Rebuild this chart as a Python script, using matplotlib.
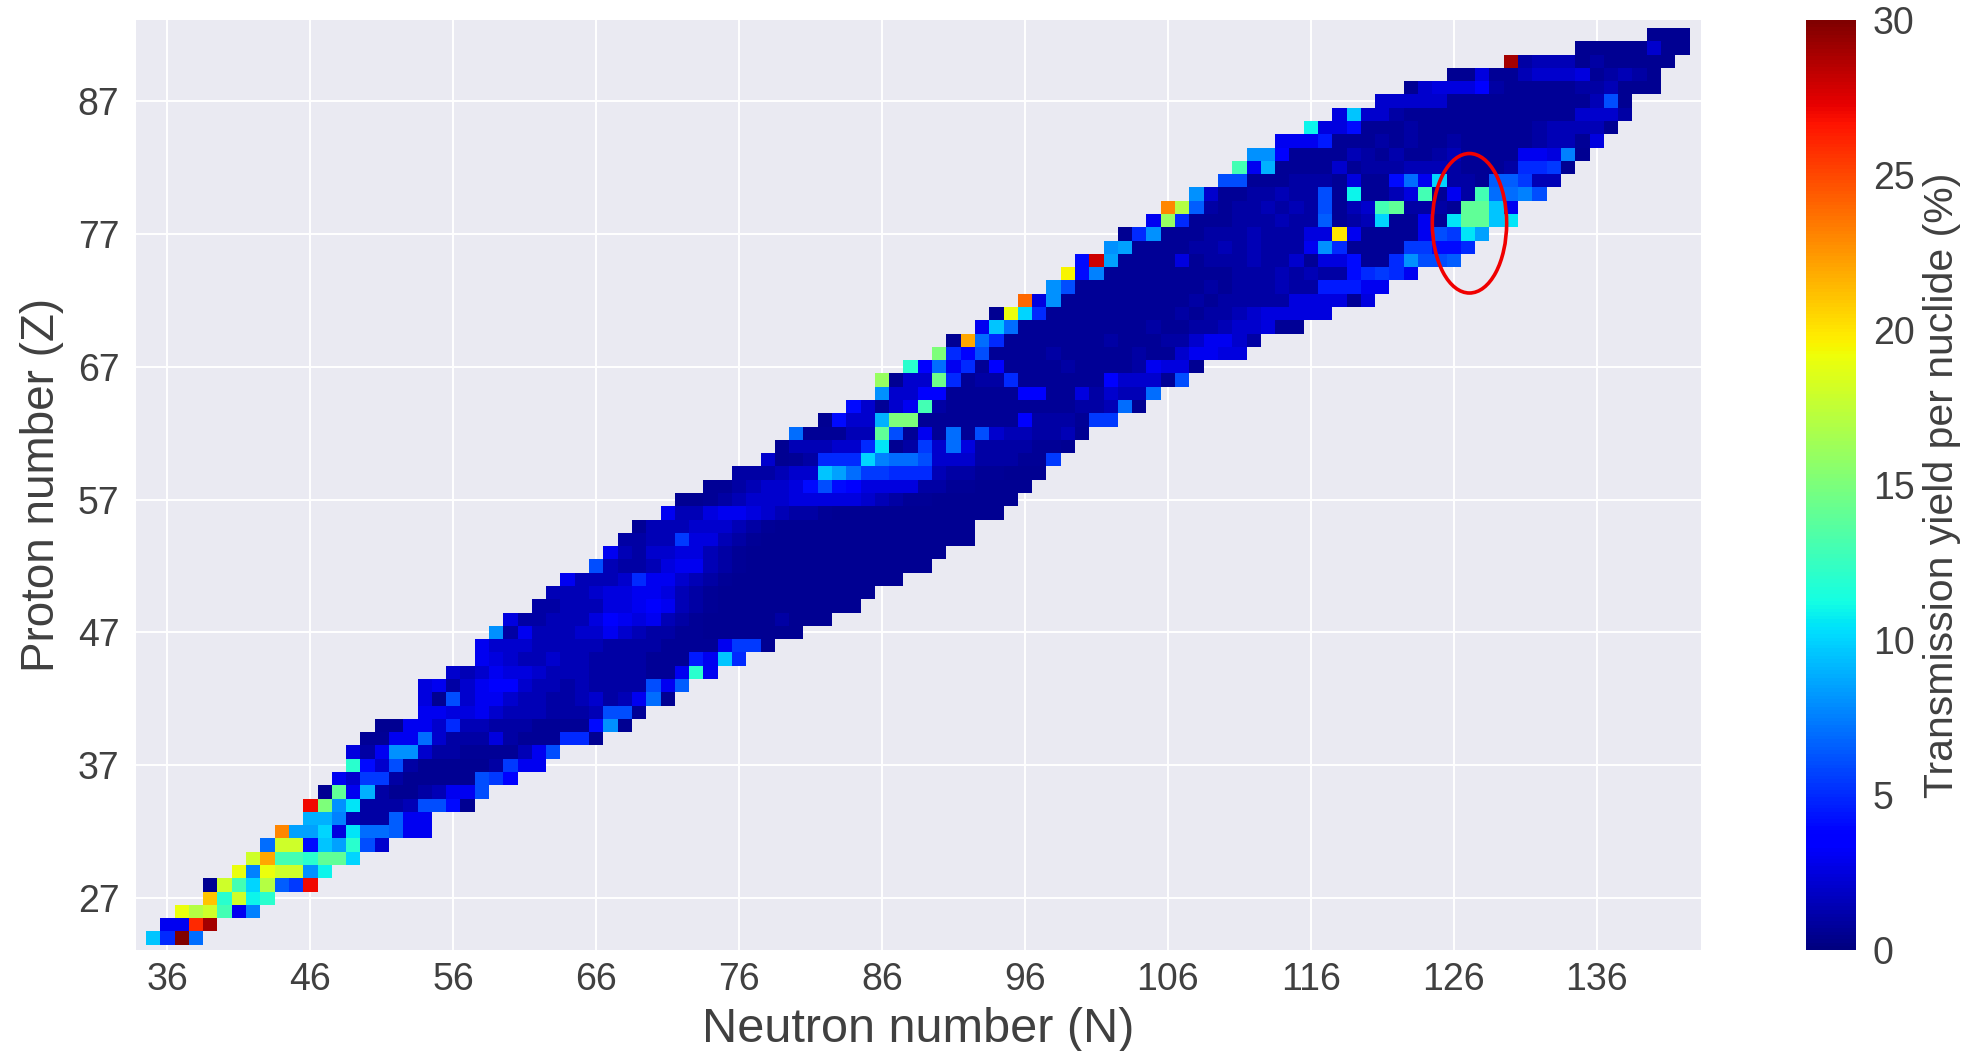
import numpy as np
import matplotlib
matplotlib.use("Agg")
import matplotlib.pyplot as plt
from matplotlib.patches import Ellipse

plt.rcParams["font.family"] = ["Liberation Sans", "DejaVu Sans"]

text_col = "#404040"

x_ticks = [36, 46, 56, 66, 76, 86, 96, 106, 116, 126, 136]
y_ticks = [27, 37, 47, 57, 67, 77, 87]
cbar_ticks = [0, 5, 10, 15, 20, 25, 30]

# proton number of the first row, first neutron number of each row
first_z = 24
first_n = [
    35, 36, 37, 39, 39, 41, 42, 43, 44, 46, 46, 47, 48, 49, 49, 50, 51, 54, 54, 54,
    56, 58, 58, 59, 60, 62, 63, 64, 66, 67, 68, 69, 71, 72, 74, 76, 78, 79, 80, 82,
    84, 86, 86, 88, 90, 91, 93, 94, 96, 98, 99, 100, 102, 103, 105, 106, 108, 110, 111, 112,
    114, 116, 118, 121, 123, 126, 130, 135, 140,
]

# yield (%) per row, Z = 24 upwards
yields = [
    [9.5, 5, 30, 7],
    [3, 3, 26, 29],
    [19, 17, 18, 13, 3, 7.5],
    [21, 12, 18, 11, 12],
    [.5, 18, 13, 10, 17, 6.5, 5.5, 27],
    [19, 7.5, 19, 18, 18, 8, 11],
    [18, 22, 13, 13, 12, 14, 14, 10],
    [7, 18, 18, 4, 9.5, 8.5, 12, 6, 2],
    [23, 8.5, 8.5, 10, 2.5, 10.5, 7, 7, 6.5, 3, 3],
    [9, 9, 7.5, 1.5, 1, 1, 6.5, 3, 3],
    [27, 15, 8, 10.5, 1, 1, 1, 1.5, 6, 6, 4, .5],
    [.5, 14, 3, 9, 1, .5, .5, 1, 1.5, 3, 3, 6],
    [3, 2, 5.5, 5.5, 1, .5, .5, .5, .5, .5, 6, 5.5, 3.5],
    [12, 4, 2, 6, 1, .5, .5, .5, .5, .5, 1, 5.5, 3, 3],
    [2.5, 1, 3, 8, 8, 2, 1, 1, .7, .7, .7, .7, 1.5, 3, 6],
    [.7, .7, 3, 3, 7, 2, 1, 1, 1, 2.5, 1, .7, .7, .7, 5, 5, .5],
    [.5, .5, 3, 3, 2, 5, 1.5, 1.5, 1, 1, 1, .7, .7, .7, .7, 4, 8, .5],
    [3, 3, 2.5, 2.5, 3, 2, 1.5, 1.5, 1.5, 1, 1, 1, 1.5, 6, 6, .7],
    [2.5, .5, 6, 2, 3, 3, 2, 1.5, 1.5, 1, 1, 1.5, 2, 1, 1.5, 3, 7, .5],
    [2.5, 3, 1, 2, 3, 3.5, 3.5, 2, 1.5, 1.5, 1, 1.5, 1, 1, 1, 1, 6, 3, 6.5],
    [2, 1.5, 2, 3, 2.5, 2.5, 2, 1.5, 1.5, 1.5, 1, 1, 1, 1, .7, .7, 3, 12, 3],
    [3, 2.5, 2, 1.5, 1.5, 2, 1.5, 1.5, 1, 1, 1, 1, .7, .7, .7, 4.5, 3, 9.5, 5],
    [3, 2, 2, 2, 1.5, 1.5, 1.5, 1.5, 1.5, 1, 1, 1, 1, .7, .7, .7, .7, 3, 5.5, 5.5, .5],
    [8, 1, 3, 1.5, 1.5, 1.5, 2, 2, 3, 2, 1.5, 1, 1, .7, .7, .5, .5, .5, .5, .5, .5, .5],
    [2.5, 1, 1, 1.5, 1.5, 1.5, 2.5, 3.5, 3, 2.5, 3, 1.5, 1, .7, .5, .5, .5, .5, .5, 1, .5, .5, .5],
    [1, 1, 1.5, 1.5, 1.5, 2.5, 2.5, 3, 3.5, 3, 1.5, 1, .7, .5, .5, .5, .5, .5, .5, .5, .5, .5, .5],
    [1.5, 1.5, 1.5, 2, 2.5, 2.5, 3, 3, 2.5, 1.5, 1, .7, .5, .5, .5, .5, .5, .5, .5, .5, .5, .5, .5],
    [3, 1.5, 1.5, 1.5, 2, 5, 3, 3, 2, 1.5, 1, .7, .5, .5, .5, .5, .5, .5, .5, .5, .5, .5, .5, .5],
    [6, 1.5, 1, 1, 1.5, 2.5, 3, 3, 1.5, 1, .7, .5, .5, .5, .5, .5, .5, .5, .5, .5, .5, .5, .5, .5],
    [3, 1.5, 1, 2, 2, 2.5, 2.5, 1.5, 1, .7, .5, .5, .5, .5, .5, .5, .5, .5, .5, .5, .5, .5, .5, .5],
    [1, 1, 1.5, 1.5, 5.5, 2.5, 2.5, 1.5, 1, .7, .5, .5, .5, .5, .5, .5, .5, .5, .5, .5, .5, .5, .5, .5, .5],
    [.7, 1.5, 1.5, 1.5, 2, 2, 2, 1.5, 1, .7, .5, .5, .5, .5, .5, .5, .5, .5, .5, .5, .5, .5, .5, .5],
    [3, 1.5, 1.5, 2.5, 3, 3, 2.5, 2, 1.5, 1, 1, .7, .5, .5, .5, .5, .5, .5, .5, .5, .5, .5, .5, .5],
    [.5, .5, .7, 1, 1.5, 2, 2, 2, 2.5, 2.5, 2.5, 2.5, 2.5, 2, 1.5, 1, .7, .7, .5, .5, .5, .5, .5, .5],
    [.7, .7, 1, 1.5, 2, 2, 2.5, 4, 6, 4, 3.5, 2.5, 2.5, 2.5, 2.5, 1, 1, .7, .7, .5, .5, .5, .5],
    [1, 1, 1, 1.5, 2, 2, 9.5, 8.5, 7, 5.5, 5.5, 5, 5, 5, 1.5, 1, 1, .7, .7, .5, .5, .5],
    [2, .5, .7, 1, 5, 5, 5, 10, 7.5, 7, 7, 6, 2, 2, 2, 1, 1, 1, .7, .7, 5.5],
    [.5, 1.5, 1.5, 1.5, 2, 2, 5, 10.5, .5, 1, 5.5, 2, 7, 2.5, 1, 1, 1, 1, .7, .7, .5],
    [7, .7, .7, .7, 1.5, 1.5, 14, 6, .7, 3, .7, 7, .7, 6, 2, 1.5, 1.5, 1, 1, 1.5, .5],
    [.5, 4, 2, 2, 9, 15, 15, .7, .7, .7, .7, .7, .7, .7, 3.5, 1, 1, 1, .7, 5.5, 5.5],
    [4, 2, .7, 2, 3, 13, 1, .7, .7, .7, .7, .7, .7, .7, .7, .7, 1, 1, 1.5, 7, .5],
    [8, 2, 2, 3.5, 3.5, .7, .7, .7, .7, .7, 3.5, 3.5, .7, .7, 2.5, 1, 2, 1.5, 1.5, 7],
    [16, .5, 2, 2, 14.5, 5, .7, 1, 1, 5, .7, .7, .7, .7, .7, .7, 3.5, 2, 2, 2, .7, 6],
    [12, 3.5, 7, 3, 5, .7, 3.5, .7, .7, .7, .7, 1, .7, .7, .7, .7, 1, 3, 2.5, 2.5, .5],
    [15, 5, 3.5, 6, .7, .7, .7, .7, 1, .7, .7, .7, .7, .7, 1, .7, .7, 2, 3, 3, 2.5, 2.5],
    [.5, 22, 7, 5, .7, .7, .7, .7, .7, .7, .7, 1, .7, .7, .7, 1, 1, 2, 3, 3, 2, 1],
    [3, 9.5, 7, .7, .7, .7, .7, .7, .7, .7, .7, .7, 1, .7, .7, 1, 1, 1.5, 2, 2, 2.5, .7, .7],
    [.5, 19, 10, 5, .7, .7, .7, .7, .7, .7, .7, .7, .7, 1, .7, 1, 1, 1.5, 2, 2.5, 2.5, 2.5, 2.5, 2.5],
    [24, 2.5, 8, .7, .7, .7, .7, .7, .7, .7, .7, .7, 1, .7, 1, 1, 1, 1, 1, 2.5, 2.5, 2.5, 2.5, .7, 2.5],
    [8, 6, .7, .7, .7, .7, .7, .7, .7, .7, .7, 1, .7, 1, 1, 1, 1.5, 1, 1, 4.5, 4.5, 4.5, 3, 3],
    [19.5, 4, 7.5, .7, .7, .7, .7, .7, .7, .7, .7, .7, 1, 1, 1, 1.5, 1, 1.5, 1, 1, 4, 5, 5.5, 5, 3],
    [4, 28, 8.5, .7, .7, .7, .7, 2.5, .7, 1, 1, 1, 1.5, 1, 1, 2, .7, 2.5, 2.5, 4, .7, .7, 5, 8, 6, 6, 6.5],
    [8, 8.5, .7, .7, .7, .7, 1, 1, 1.5, 1, 1.5, 1, 1, 1, 3, 8, 5, .7, .7, .7, .7, 5.5, 5.5, 4, 4, 5],
    [.5, 5, 8, .7, .7, .7, 1, 1, 1, 1.5, 1, 1, 1, 2.5, 2.5, 20, 3, .7, .7, .7, .7, 3, 6, 5.5, 10.5, 8.5],
    [3, 16, 5, .7, .7, .7, 1, 1, 1, 1.5, 1, 1, 6.5, .7, 1, 1.5, 10, .7, .7, 3, .7, 10.5, 14, 14, 9.5, 10.5],
    [23, 17, 6.5, 1, .7, 1, 1, 1.5, 1, 1.5, 1, 6, .7, 1.5, 2, 13, 14, 1, 1, 1, .7, 14, 14, 9.5, 3],
    [8, 2, .7, .7, 1, 1, 1.5, 1, 1, 6, .7, 11, .7, .7, 1.5, 2.5, 13, .7, 3, 1, 13, 7, 7, 7.5, 6],
    [6, 6, .7, .7, .7, 1, 1, 1, .7, 2.5, .7, .7, 4, 7, 3, 10, 1, 1, .7, 6.5, 6.5, 5.5, 1.5, 1.5],
    [13, 3, 9, .7, .7, .7, .7, 2, .7, 1, 1, 1, 1.5, 1.5, 1.5, 1, .7, .7, .7, 1, 5, 5, 5.5, .5],
    [8, 8, 3.5, .7, .7, .7, .7, 1.5, 1, .7, 1.2, .7, .7, 1, 1.5, .7, .7, .7, .7, 3, 3, 2.5, 7.5, .5],
    [3, 3, 3, 4.5, .7, .7, .7, 1, .7, 1, .7, .7, 1, .7, .7, .7, .7, .7, 1, 1.5, 1.5, .7, 2.5],
    [11, 2.5, 2.5, 4, .7, .7, .7, 1, .7, .7, .7, .7, .7, .7, .7, .7, 1, 1.5, 1.5, 1.5, 1.5, .5],
    [2.5, 9.5, 2, 2, 1, .7, .7, .7, .7, .7, .7, .7, .7, .7, .7, .7, .7, 2, 2, 2, 1],
    [2, 2, 2, 2, 2, .7, .7, .7, .7, .7, .7, .7, .7, .7, .7, 1.5, 6, .5],
    [.5, 2, 2.5, 2.5, 2.5, 3.5, 1, .7, .7, .7, .7, .7, 1, 1, 1.5, .5, .5, .5],
    [.5, .5, 2.5, .7, .7, 1.5, 2, 2, 2, 2.5, .7, 1, 1.5, 1, .5],
    [29, 1, 1.5, 1.5, 1.5, .5, 1, .5, .5, .5, .5, .5],
    [.5, .5, .5, .5, .5, 2, .5, .5],
    [.5, .5, .5],
]

n_edges = np.arange(33.5, 144.5)
z_edges = np.arange(22.5, 94.5)
grid = np.full((len(z_edges) - 1, len(n_edges) - 1), np.nan)
for i, row in enumerate(yields):
    for j, val in enumerate(row):
        grid[first_z + i - 23, first_n[i] + j - 34] = val

W, H = 1977, 1051
fig = plt.figure(figsize=(W / 100, H / 100), dpi=100)
ax = fig.add_axes([136 / W, 1 - 950 / H, 1565 / W, 930 / H])
ax.set_facecolor("#eaeaf2")

mesh = ax.pcolormesh(n_edges, z_edges, np.ma.masked_invalid(grid), cmap="jet",
                     vmin=0, vmax=30, zorder=2)
ax.add_patch(Ellipse((127.1, 77.8), 5.2, 10.5, fill=False, edgecolor="#f00000",
                     linewidth=2.6, zorder=3))

ax.set_xlim(33.8, 143.3)
ax.set_ylim(23.1, 93.1)
ax.set_xticks(x_ticks)
ax.set_yticks(y_ticks)
ax.grid(True, color="white", linewidth=1.4, zorder=1)
ax.set_axisbelow(True)
ax.tick_params(length=0, labelsize=27, labelcolor=text_col)
ax.tick_params(axis="x", pad=9)
ax.tick_params(axis="y", pad=12)
for s in ax.spines.values():
    s.set_visible(False)

ax.set_xlabel("Neutron number (N)", fontsize=35, color=text_col, va="center")
ax.xaxis.set_label_coords(0.5, -80 / 930)
ax.set_ylabel("Proton number (Z)", fontsize=33, color=text_col, va="center")
ax.yaxis.set_label_coords(-94 / 1565, 0.5)

cax = fig.add_axes([1806 / W, 1 - 950 / H, 50 / W, 930 / H])
cb = fig.colorbar(mesh, cax=cax)
cb.outline.set_visible(False)
cb.set_ticks(cbar_ticks)
cax.tick_params(length=0, labelsize=27, labelcolor=text_col, pad=12)
cb.set_label("Transmission yield per nuclide (%)", fontsize=29.5, color=text_col, va="center")
cax.yaxis.set_label_coords((1942 - 1806) / 50, 0.5)

fig.savefig("out.png", dpi=100)
